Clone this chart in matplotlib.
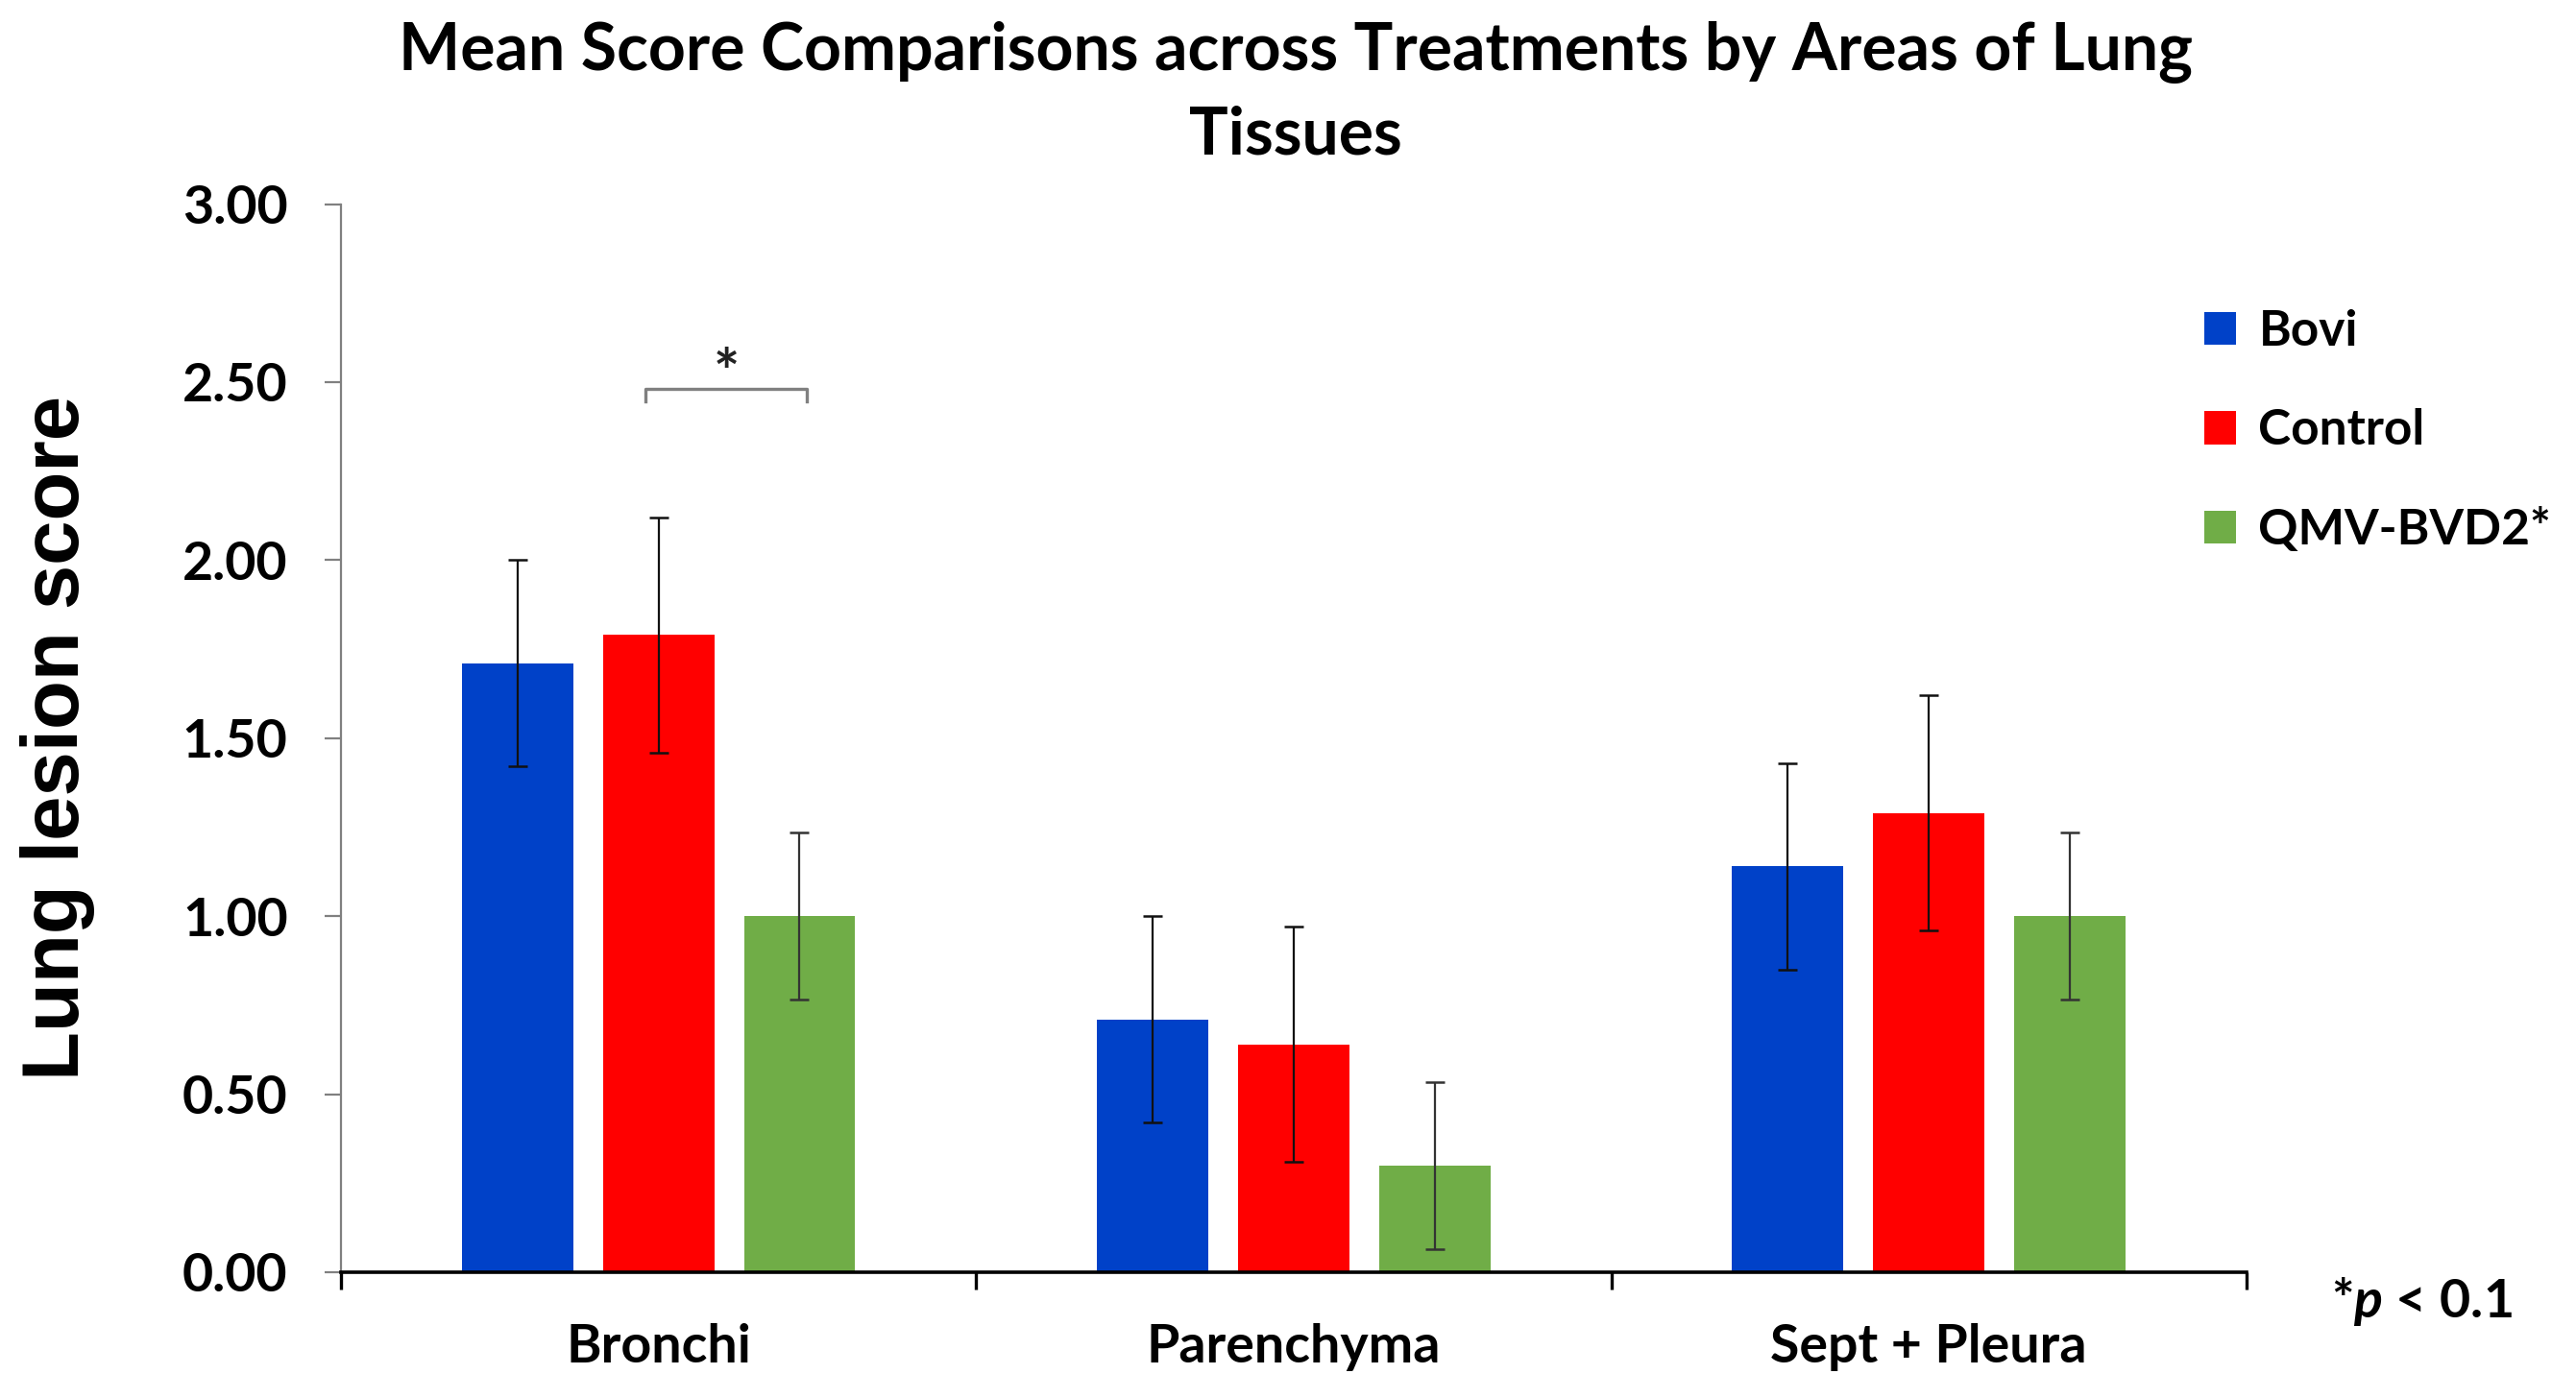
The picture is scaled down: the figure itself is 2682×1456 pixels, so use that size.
"""Mean lung lesion score by tissue area and treatment (grouped bars with SE)."""

import matplotlib

matplotlib.use("Agg")
import matplotlib.pyplot as plt
import numpy as np
from matplotlib.patches import Patch

CATEGORIES = ["Bronchi", "Parenchyma", "Sept + Pleura"]
TREATMENTS = ["Bovi", "Control", "QMV-BVD2*"]

BOVI = [1.71, 0.71, 1.14]
CONTROL = [1.79, 0.64, 1.29]
QMV = [1.00, 0.30, 1.00]

BOVI_ERR = [0.29, 0.29, 0.29]
CONTROL_ERR = [0.33, 0.33, 0.33]
QMV_ERR = [0.235, 0.235, 0.235]

Y_TICKS = [0.0, 0.5, 1.0, 1.5, 2.0, 2.5, 3.0]

COLORS = ["#0041C8", "#FF0000", "#70AD47"]
ERR_COLORS = ["#111111", "#111111", "#333333"]
BAR_WIDTH = 0.175
OFFSETS = [-0.222, 0.0, 0.222]

plt.rcParams["font.family"] = ["Lato", "DejaVu Sans"]
plt.rcParams["font.weight"] = "bold"
plt.rcParams["mathtext.fontset"] = "custom"
plt.rcParams["mathtext.it"] = "Lato:italic:bold"
plt.rcParams["mathtext.rm"] = "Lato:bold"


def main() -> None:
    fig = plt.figure(figsize=(13.41, 7.28), dpi=200)
    ax = fig.add_axes([0.1324, 0.090, 0.7396, 0.764])

    x = np.arange(len(CATEGORIES))
    series = [BOVI, CONTROL, QMV]
    errors = [BOVI_ERR, CONTROL_ERR, QMV_ERR]
    for vals, errs, off, col, ecol in zip(series, errors, OFFSETS, COLORS, ERR_COLORS):
        ax.bar(x + off, vals, width=BAR_WIDTH, color=col, zorder=2)
        ax.errorbar(x + off, vals, yerr=errs, fmt="none", ecolor=ecol,
                    elinewidth=0.8, capsize=3.6, capthick=0.9, zorder=3)

    ax.set_xlim(-0.5, len(CATEGORIES) - 0.5)
    ax.set_ylim(0, 3.0)
    ax.set_yticks(Y_TICKS)
    ax.set_yticklabels([f"{v:.2f}" for v in Y_TICKS], fontsize=20, fontweight="bold")

    ax.set_xticks(np.arange(len(CATEGORIES) + 1) - 0.5)
    ax.set_xticklabels([])
    ax.set_xticks(x, minor=True)
    ax.set_xticklabels(CATEGORIES, minor=True, fontsize=20, fontweight="bold")
    ax.tick_params(axis="x", which="major", length=6.5, width=1.2, color="black", direction="out")
    ax.tick_params(axis="x", which="minor", length=0, pad=19)
    ax.tick_params(axis="y", length=6, width=0.8, color="#808080", pad=14)

    for side in ("top", "right"):
        ax.spines[side].set_visible(False)
    ax.spines["left"].set_color("#808080")
    ax.spines["left"].set_linewidth(0.8)
    ax.spines["bottom"].set_color("black")
    ax.spines["bottom"].set_linewidth(1.3)
    ax.spines["bottom"].set_zorder(4)

    # significance bracket between Control and QMV-BVD2 in Bronchi
    bx1, bx2 = OFFSETS[1] - 0.02, OFFSETS[2] + 0.012
    by, tip = 2.48, 0.035
    ax.plot([bx1, bx1, bx2, bx2], [by - tip, by, by, by - tip],
            color="#808080", lw=1.2, clip_on=False)
    ax.text((bx1 + bx2) / 2, by - 0.04, "*", ha="center", va="bottom",
            fontsize=23, fontweight="bold", color="#222222")

    fig.text(0.503, 0.985, "Mean Score Comparisons across Treatments by Areas of Lung\nTissues",
             ha="center", va="top", fontsize=24.5, fontweight="bold", linespacing=1.45)

    fig.text(0.0224, 0.472, "Lung lesion score", rotation=90, ha="center", va="center",
             fontsize=30, fontweight="bold", family=["Liberation Sans", "DejaVu Sans"])

    handles = [Patch(facecolor=c, edgecolor="none") for c in COLORS]
    fig.legend(handles, TREATMENTS, loc="upper left", bbox_to_anchor=(0.848, 0.793),
               frameon=False, fontsize=18.5, handlelength=0.65, handleheight=0.65,
               handletextpad=0.45, labelspacing=1.1, borderaxespad=0)

    fig.text(0.905, 0.069, "*$p$ < 0.1", ha="left", va="center", fontsize=20, fontweight="bold")

    fig.savefig("out.png", dpi=200)
    plt.close(fig)


if __name__ == "__main__":
    main()
